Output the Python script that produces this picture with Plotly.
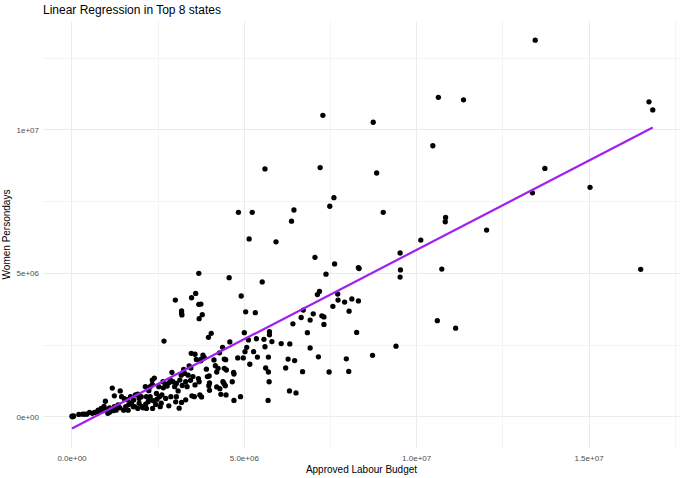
import numpy as np
import plotly.graph_objects as go

# values in millions
budget_m = [
    7.28, 5.60, 7.20, 7.60, 7.48, 4.83, 5.23, 6.44, 6.37, 5.14, 5.92,
    13.44, 10.63, 11.36, 8.74, 16.74, 16.85, 10.47, 8.84, 13.72, 13.36, 15.03,
    9.03, 10.84, 10.83, 12.03, 10.12,
    9.52, 8.31, 8.33, 10.73, 9.53, 9.52, 16.50, 7.91, 8.12, 8.31, 8.04, 10.60,
    11.13, 8.26, 9.40, 8.72, 7.96, 8.03,
    7.62, 7.05, 7.37, 7.71, 7.72, 7.12, 7.18, 7.57, 6.71, 7.00, 7.25, 7.31,
    6.91, 6.65, 7.31, 6.41, 6.83, 6.91, 7.15, 7.46, 6.69, 6.32, 6.07, 6.27,
    6.46, 6.20, 6.31, 6.50, 5.69, 5.72, 5.70, 5.62, 5.70, 5.60, 5.57, 5.80,
    5.73, 5.73, 5.35, 5.27, 5.38, 5.16, 5.52, 5.32, 5.04, 4.91, 4.56, 3.68,
    3.59, 3.47, 3.68, 3.74, 3.78, 3.69, 3.18, 3.18, 3.19, 3.00, 2.67, 4.04,
    3.96, 5.12, 5.00, 4.58, 5.07, 5.02, 4.97, 4.81, 4.37, 4.28, 4.42, 4.46,
    4.12, 3.84, 3.75, 3.74, 3.46, 3.57, 4.16, 4.24, 4.20, 3.90, 4.69, 4.70,
    4.42, 4.48, 4.65, 4.38, 4.41, 4.45, 4.20, 4.29, 3.99, 3.97, 3.98, 3.93,
    3.67, 3.69, 3.44, 3.57, 3.99, 4.32, 4.47, 4.89, 4.70, 3.48, 3.55, 3.71,
    3.76, 3.30, 3.18, 3.11, 2.90,
    0.00, 0.02, 0.05, 0.03, 0.20, 0.31, 0.37, 0.51, 0.59, 0.66, 0.73, 0.80,
    0.89, 0.97, 0.93, 1.04, 1.09, 1.17, 1.23, 1.40, 1.39, 1.28, 1.19, 1.44,
    1.52, 1.61, 1.56, 1.65, 1.73, 1.78, 1.50, 1.63, 1.84, 1.95, 1.95, 2.06,
    2.14, 2.13, 2.23, 2.27, 2.33, 2.39, 2.33, 2.21, 2.34, 2.43, 2.47, 2.45,
    2.54, 2.61, 2.65, 2.76, 2.82, 2.93, 2.98, 3.03, 3.08, 3.13, 3.24, 3.30,
    3.34, 3.01, 2.81, 2.87, 3.03, 2.72, 2.59, 2.56, 3.20, 3.40, 3.37, 3.51,
    0.43, 0.76, 0.85, 1.02, 1.09, 1.23, 1.34, 1.70, 1.79, 1.91, 2.01, 2.16,
    2.27, 2.23, 2.36, 1.82, 1.91, 2.04, 2.16, 2.52, 2.64, 2.71, 2.86, 3.17,
    3.27, 3.45, 3.61, 3.80,
]
women_days_m = [
    10.51, 8.64, 8.69, 7.64, 7.34, 7.13, 7.13, 7.21, 6.82, 6.20, 6.10,
    13.13, 11.14, 11.05, 10.27, 10.98, 10.70, 9.45, 8.50, 8.66, 7.81, 8.00,
    7.13, 6.95, 6.80, 6.51, 6.16,
    5.71, 5.20, 5.17, 5.15, 5.12, 4.87, 5.14, 4.00, 4.11, 4.04, 3.68, 3.35,
    3.09, 2.94, 2.46, 2.14, 2.02, 1.58,
    5.33, 5.56, 4.97, 4.28, 4.07, 4.26, 4.37, 3.85, 3.72, 3.59, 3.52, 3.48,
    3.37, 3.46, 3.22, 3.24, 2.93, 2.40, 2.09, 1.56, 1.57, 2.54, 2.55, 2.01,
    1.96, 1.70, 0.90, 0.83, 0.57, 1.22, 1.56, 1.70, 2.08, 2.44, 2.70, 2.62,
    2.97, 2.86, 2.72, 2.27, 2.08, 1.83, 4.70, 3.63, 3.66, 4.21, 4.85, 5.00,
    4.30, 4.15, 3.92, 3.93, 3.56, 3.42, 3.69, 3.62, 3.55, 4.07, 2.64, 2.91,
    2.77, 2.68, 2.93, 2.61, 2.42, 2.27, 2.05, 2.05, 2.42, 2.23, 2.01, 1.99,
    1.98, 2.06, 2.01, 1.95, 2.21, 2.18, 1.78, 1.69, 1.56, 1.66, 1.55, 1.49,
    1.69, 1.63, 1.22, 1.22, 1.16, 1.08, 1.04, 0.98, 1.18, 1.08, 1.42, 1.40,
    1.33, 1.22, 1.27, 1.11, 0.92, 0.78, 0.76, 0.70, 0.57, 0.73, 0.70, 0.76,
    0.69, 0.59, 0.50, 0.30, 1.55,
    0.02, 0.00, 0.03, 0.01, 0.08, 0.09, 0.09, 0.15, 0.12, 0.15, 0.17, 0.17,
    0.21, 0.54, 0.36, 0.12, 0.16, 1.00, 0.73, 0.90, 0.31, 0.23, 0.21, 0.70,
    0.63, 0.60, 0.35, 0.43, 0.49, 0.35, 0.23, 0.23, 0.76, 0.64, 0.47, 0.31,
    0.44, 1.05, 0.91, 1.05, 1.13, 1.35, 1.28, 0.52, 0.29, 0.43, 0.61, 0.81,
    0.70, 0.76, 1.01, 1.07, 1.19, 1.22, 1.05, 1.16, 0.90, 1.28, 1.65, 1.22,
    1.05, 0.52, 0.38, 0.70, 0.70, 0.64, 0.47, 0.35, 1.09, 1.77, 1.45, 1.40,
    0.09, 0.23, 0.29, 0.26, 0.31, 0.35, 0.41, 0.70, 0.58, 0.79, 0.70, 0.70,
    0.70, 0.58, 0.56, 0.35, 0.29, 0.35, 0.29, 1.05, 1.22, 1.14, 1.28, 1.45,
    1.51, 1.70, 2.00, 2.15,
]

# fitted line as shown in the reference (lm fit on the full data)
fit_intercept_m = -0.41
fit_slope = 0.623

x_ticks = [0, 5e6, 1e7, 1.5e7]
x_tick_labels = ["0.0e+00", "5.0e+06", "1.0e+07", "1.5e+07"]
y_ticks = [0, 5e6, 1e7]
y_tick_labels = ["0e+00", "5e+06", "1e+07"]

x = np.array(budget_m) * 1e6
y = np.array(women_days_m) * 1e6

fit_x = np.array([x.min(), x.max()])
fit_y = fit_intercept_m * 1e6 + fit_slope * fit_x

fig = go.Figure()
fig.add_trace(go.Scatter(
    x=x, y=y, mode="markers",
    marker=dict(color="black", size=5.3),
    hoverinfo="skip"
))
fig.add_trace(go.Scatter(
    x=fit_x, y=fit_y, mode="lines",
    line=dict(color="#A020F0", width=2.2),
    hoverinfo="skip"
))

grid_major = "#ebebeb"
grid_minor = "#f4f4f4"
fig.update_layout(
    width=686, height=478,
    showlegend=False,
    plot_bgcolor="white", paper_bgcolor="white",
    margin=dict(l=43, r=6, t=21, b=30),
    font=dict(family="Liberation Sans, Arial, sans-serif", color="black"),
    title=dict(text="Linear Regression in Top 8 states", x=0, xref="paper",
               y=0.988, yref="container", yanchor="top",
               font=dict(size=12, color="black")),
    xaxis=dict(
        range=[-0.84e6, 17.64e6],
        tickvals=x_ticks, ticktext=x_tick_labels,
        tickfont=dict(size=8, color="#4d4d4d"),
        ticklabelstandoff=4,
        showgrid=True, gridcolor=grid_major, gridwidth=1.1,
        minor=dict(dtick=2.5e6, tick0=0, showgrid=True, gridcolor=grid_minor, gridwidth=0.6),
        zeroline=False, showline=False, ticks="", automargin=False,
        title=dict(text="Approved Labour Budget", font=dict(size=10), standoff=3),
    ),
    yaxis=dict(
        range=[-1.09e6, 13.8e6],
        tickvals=y_ticks, ticktext=y_tick_labels,
        tickfont=dict(size=8, color="#4d4d4d"),
        ticklabelstandoff=3,
        showgrid=True, gridcolor=grid_major, gridwidth=1.1,
        minor=dict(dtick=2.5e6, tick0=0, showgrid=True, gridcolor=grid_minor, gridwidth=0.6),
        zeroline=False, showline=False, ticks="", automargin=False,
        title=dict(text="Women Persondays", font=dict(size=10), standoff=4),
    ),
)

# drop the default page margin so the figure sits at the window's top-left
fig.write_html("out.html", config={"displayModeBar": False},
               post_script="document.body.style.margin='0';")
